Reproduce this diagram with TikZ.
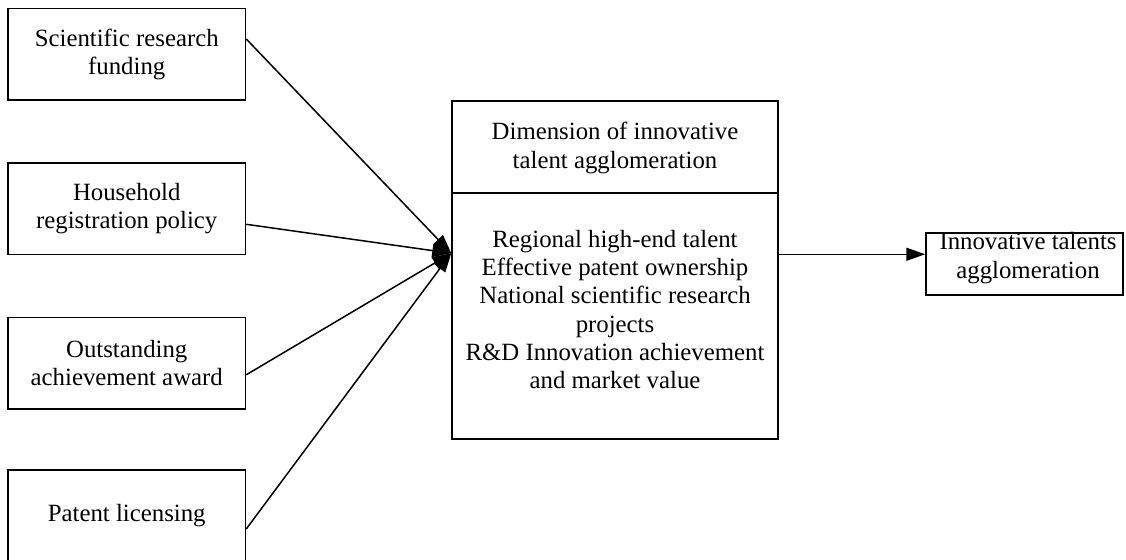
\documentclass[tikz,border=0pt]{standalone}
\usepackage{fontspec}
\setmainfont{Liberation Serif}
\usetikzlibrary{arrows.meta}

\tikzset{
  factor/.style={draw, line width=1.5pt, minimum width=237.5pt, minimum height=91.5pt,
    inner sep=0pt, align=center},
  txt/.style={inner sep=0pt, align=center},
  link/.style={line width=1.5pt, -{Triangle[length=19pt,width=13pt]}},
  frame/.style={draw, line width=1.5pt, inner sep=0pt}
}

\begin{document}
\begin{tikzpicture}[x=1pt, y=-1pt, font=\fontsize{24.8}{28.3}\selectfont]
  \useasboundingbox (0,0) rectangle (1126,559);
  \clip (0,0) rectangle (1126,559);

  % influencing factors on the left
  \node[factor] (s1) at (126.75,54.5)  {Scientific research\\funding};
  \node[factor] (s2) at (126.75,208.8) {Household\\registration policy};
  \node[factor] (s3) at (126.75,363.3) {Outstanding\\achievement award};
  \node[factor] (s4) at (126.75,515.5) {Patent licensing};

  % dimension box: heading part and indicator part
  \node[frame, minimum width=326pt, minimum height=92pt] (dimtop) at (615,147) {};
  \node[frame, minimum width=326pt, minimum height=246pt] (dimbot) at (615,316) {};
  \node[txt] (dimhead) at (615,148) {Dimension of innovative\\talent agglomeration};
  \node[txt] (dimlist) at (615,309.5) {Regional high-end talent\\Effective patent ownership\\National scientific research\\projects\\R\&D Innovation achievement\\and market value};

  % result box
  \node[frame, minimum width=197pt, minimum height=62pt] (result) at (1024.5,264) {};
  \node[txt] (restext) at (1028,258) {Innovative talents\\agglomeration};

  % converging connectors
  \coordinate (hub) at ([yshift=-61pt]dimbot.north west);
  \draw[link] ([yshift=-31pt]s1.north east) -- (hub);
  \draw[link] ([yshift=-62pt]s2.north east) -- (hub);
  \draw[link] ([yshift=-58pt]s3.north east) -- (hub);
  \draw[link] ([yshift=-60pt]s4.north east) -- (hub);

  % output connector
  \coordinate (outstart) at ([yshift=-62pt]dimbot.north east);
  \draw[link] (outstart) -- (outstart -| result.west);
\end{tikzpicture}
\end{document}
